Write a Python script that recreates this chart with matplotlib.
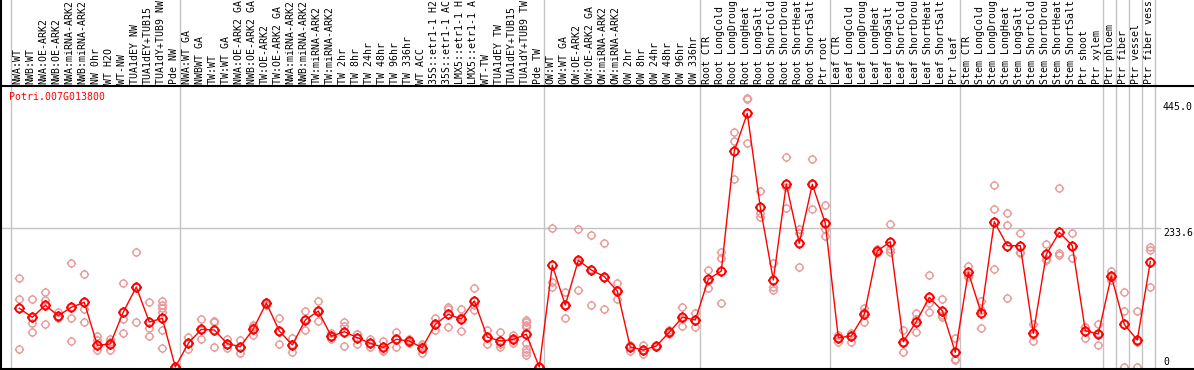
import numpy as np
import matplotlib
matplotlib.use('Agg')
import matplotlib.pyplot as plt
from matplotlib.path import Path

gene = 'Potri.007G013800'

samples = [
    'NWA:WT', 'NWB:WT', 'NWA:OE-ARK2', 'NWB:OE-ARK2', 'NWA:miRNA-ARK2', 'NWB:miRNA-ARK2',
    'NW 0hr', 'WT H2O', 'WT-NW', 'TUA1dEY NW', 'TUA1dEY+TUB15', 'TUA1dY+TUB9 NW', 'Pde NW',
    'NWA:WT GA', 'NWBWT GA', 'TW:WT', 'TW:WT GA', 'NWA:OE-ARK2 GA', 'NWB:OE-ARK2 GA',
    'TW:OE-ARK2', 'TW:OE-ARK2 GA', 'NWA:miRNA-ARK2', 'NWB:miRNA-ARK2', 'TW:miRNA-ARK2',
    'TW:miRNA-ARK2', 'TW 2hr', 'TW 8hr', 'TW 24hr', 'TW 48hr', 'TW 96hr', 'TW 336hr', 'WT ACC',
    '35S::etr1-1 H2O', '35S::etr1-1 ACC', 'LMX5::etr1-1 H2O', 'LMX5::etr1-1 ACC', 'WT-TW',
    'TUA1dEY TW', 'TUA1dEY+TUB15', 'TUA1dY+TUB9 TW', 'Pde TW',
    'OW:WT', 'OW:WT GA', 'OW:OE-ARK2', 'OW:OE-ARK2 GA', 'OW:miRNA-ARK2', 'OW:miRNA-ARK2',
    'OW 2hr', 'OW 8hr', 'OW 24hr', 'OW 48hr', 'OW 96hr', 'OW 336hr',
    'Root CTR', 'Root LongCold', 'Root LongDrought', 'Root LongHeat', 'Root LongSalt',
    'Root ShortCold', 'Root ShortDrought', 'Root ShortHeat', 'Root ShortSalt', 'Ptr root',
    'Leaf CTR', 'Leaf LongCold', 'Leaf LongDrought', 'Leaf LongHeat', 'Leaf LongSalt',
    'Leaf ShortCold', 'Leaf ShortDrought', 'Leaf ShortHeat', 'Leaf ShortSalt', 'Ptr leaf',
    'Stem CTR', 'Stem LongCold', 'Stem LongDrought', 'Stem LongHeat', 'Stem LongSalt',
    'Stem ShortCold', 'Stem ShortDrought', 'Stem ShortHeat', 'Stem ShortSalt', 'Ptr shoot',
    'Ptr xylem', 'Ptr phloem', 'Ptr fiber', 'Ptr vessel', 'Ptr fiber vessel',
]

group_sizes = [13, 28, 12, 10, 10, 11, 1, 1, 1, 1]

means = [
    98.6, 83.5, 103.7, 86.3, 100.3, 108.7, 36.4, 38.7, 92.4, 134.4, 75.6, 81.8, 0,
    39.8, 63.3, 62.2, 39.2, 34.2, 63.9, 107.6, 60.5, 37, 79, 94, 51.6, 59.3, 49.3, 39.8,
    33, 46.5, 43.7, 32.5, 71.7, 88.5, 80.7, 111, 50.4, 43.7, 46.5, 55, 0,
    171, 104, 179.3, 163, 152, 127.7, 33.5, 28.6, 35.3, 58.3, 83.5, 79,
    147.3, 161.3, 363, 426.4, 268.3, 146.2, 307, 207.9, 307, 241.5,
    49.3, 52.1, 88.5, 195, 210.6, 42.5, 76.1, 117.1, 94.6, 24.7,
    159.1, 90.2, 244.2, 203.9, 203.9, 56.6, 189.3, 226.3, 203.9, 61, 55.5,
    152.9, 71.7, 45.4, 177,
]

replicates = [
    [149, 115, 30], [115, 74.5, 58], [126, 112.6, 71.7], [92, 85, 82], [174.8, 82.9, 43.7],
    [155.8, 96.9, 75], [52, 45, 28], [46.5, 42, 28], [142, 80, 56.6], [192.7, 135, 75],
    [109, 65, 51.6], [111, 105, 99, 93, 62, 32], [0, 0, 0],
    [49.9, 40, 29.7], [80, 63, 46.5], [78, 75, 33], [47, 38, 32.5], [45.4, 34, 23],
    [70.6, 67, 53.8], [110, 107, 105], [81.8, 61, 38.7], [48.2, 38, 24.7], [94, 81, 62],
    [110.4, 95, 77.3], [56.6, 51, 47], [75, 69.4, 35.3], [55, 55, 38.1], [46.5, 40, 33],
    [43.7, 28, 27.5], [59.3, 47, 33], [46.5, 45, 39.8], [38, 35, 24], [81.8, 71, 62.2],
    [101, 97, 67.7], [97.5, 84, 60.5], [132, 105, 95.8], [62.2, 51, 38], [59.3, 38, 34],
    [53.8, 46, 40], [79, 75, 71, 67.7, 40, 30, 25, 20], [0, 0, 0],
    [233, 143.4, 135], [125.5, 104, 81.8], [231.4, 177, 129.4], [221.3, 164, 103.7],
    [207.9, 152, 97.5], [140.7, 129, 113.8], [37, 35, 27.5], [37, 28, 21.8], [36, 35, 34],
    [62.2, 58, 55], [101.4, 80, 69], [91, 78, 67.7],
    [163, 144, 133], [192.7, 182.6, 107], [394.4, 379.8, 316], [451.6, 450, 377],
    [295.8, 258, 252.6], [174.3, 133.9, 130], [352.4, 303, 266.7], [231.4, 224.7, 167.5],
    [349, 307, 265], [271.8, 231.9, 220.7],
    [53, 49, 42.5], [57, 52, 42.5], [98.6, 92, 75], [198, 195, 192], [239.8, 197.8, 194],
    [62.2, 40, 25.7], [91.3, 80, 58.3], [154.6, 107, 91.9], [113.8, 87.4, 84.5], [48.2, 14, 11.8],
    [170.2, 155, 151.8], [110.9, 95, 65], [305.9, 265, 164.2], [258.3, 238.1, 115.5],
    [225.7, 194, 192], [71.7, 54, 44.2], [206.7, 181, 180], [300.3, 192, 187.7],
    [224.7, 204, 182.7], [67.7, 67, 48.2], [72.3, 57, 37],
    [161.3, 151, 146.2], [125.5, 94.1, 0], [94.1, 42, 0], [202.2, 196.6, 133.9],
]

y_ticks = [445.0, 233.6, 0]
y_tick_labels = ['445.0', '233.6', '0']

W, H = 1194, 370
fig = plt.figure(figsize=(W / 100, H / 100), dpi=100)
ax = fig.add_axes([0, 0, 1, 1])
ax.axis('off')

# pixel layout: sample i centred at x = 19.3 + 13 i, value 0 at y = 367 px (from top)
x0, dx = 19.3, 13.0
y0 = 367.0
vpp = 233.6 / 139.0
ax.set_xlim(-x0 / dx, (W - x0) / dx)
ax.set_ylim(-(H - y0) * vpp, y0 * vpp)


def px(x):
    return (x - x0) / dx


def py(y):
    return (y0 - y) * vpp


mono = 'DejaVu Sans Mono'
fs = 7.1
grey = '#c4c4c4'

# circle with four little spikes, like the original point glyph
t = 1.35
sun = Path.make_compound_path(
    Path.unit_circle(),
    Path([(0, 1), (0, t), (0, -1), (0, -t), (1, 0), (t, 0), (-1, 0), (-t, 0)],
         [Path.MOVETO, Path.LINETO] * 4))

# frame
ax.axhline(py(85.8), color='black', lw=1.5, zorder=6)
ax.axhline(py(369), color='black', lw=1.5, zorder=6)
ax.axvline(px(0.7), color='black', lw=1.5, zorder=6)

# group separators
bounds = np.concatenate([[0], np.cumsum(group_sizes)])
for b in bounds:
    ax.axvline(b - 0.654, color=grey, lw=1, zorder=1)

ax.plot([px(0), px(1160)], [y_ticks[1], y_ticks[1]], color=grey, lw=1, zorder=1)

x = np.arange(len(samples))
for i, r in enumerate(replicates):
    ax.plot([i] * len(r), r, ls='none', marker=sun, ms=6.8, mfc='none',
            mec='#e89a9a', mew=1.0, zorder=3)
ax.plot(x, means, '-', color='red', lw=1, zorder=4)
ax.plot(x, means, ls='none', marker=sun, ms=7.6, mfc='none', mec='red', mew=1.4, zorder=5)

# the header only has room for 14 characters
for i, s in enumerate(samples):
    ax.text(i - 0.12, py(84), s[:14], rotation=90, ha='center', va='bottom',
            fontsize=fs, family=mono, color='black')

ax.text(px(8.5), py(97), gene, ha='left', va='center', fontsize=fs, family=mono, color='red')

for v, lab in zip(y_ticks, y_tick_labels):
    va = 'bottom' if v == 0 else 'top'
    ax.text(px(1163), v, lab, ha='left', va=va, fontsize=fs, family=mono, color='black')

fig.savefig('out.png', dpi=100)
